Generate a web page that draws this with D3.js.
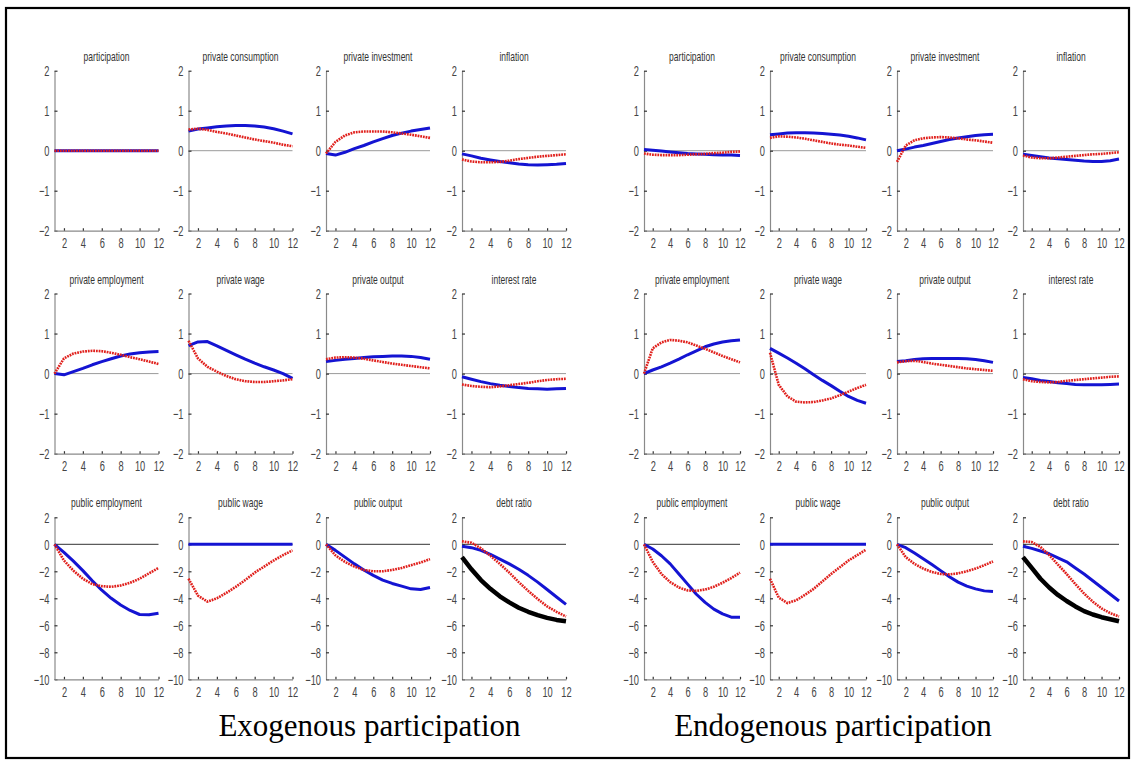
<!DOCTYPE html>
<html><head><meta charset="utf-8">
<script src="https://cdn.jsdelivr.net/npm/d3@7"></script>
<style>body{margin:0;background:#fff}svg{display:block}</style>
</head><body><svg id="c" width="1131" height="760"></svg>
<script>
// ---------- data ----------
const periods = [1,2,3,4,5,6,7,8,9,10,11,12];
const xTicks = [2,4,6,8,10,12];
const yTicksSmall = [-2,-1,0,1,2];
const yTicksLarge = [-10,-8,-6,-4,-2,0,2];
const panelTitles = ["participation","private consumption","private investment","inflation",
  "private employment","private wage","private output","interest rate",
  "public employment","public wage","public output","debt ratio"];
const captions = ["Exogenous participation","Endogenous participation"];

// Exogenous participation (blue = solid, red = dotted, black = thick)
const exoParticipationBlue = [0,0,0,0,0,0,0,0,0,0,0,0];
const exoParticipationRed  = [0,0,0,0,0,0,0,0,0,0,0,0];
const exoConsumptionBlue = [0.49,0.54,0.57,0.60,0.62,0.63,0.63,0.62,0.59,0.55,0.49,0.42];
const exoConsumptionRed  = [0.53,0.55,0.52,0.47,0.43,0.38,0.33,0.28,0.24,0.20,0.15,0.11];
const exoInvestmentBlue = [-0.07,-0.11,-0.04,0.05,0.13,0.22,0.30,0.38,0.44,0.49,0.53,0.57];
const exoInvestmentRed  = [-0.07,0.22,0.38,0.46,0.48,0.48,0.48,0.46,0.43,0.40,0.36,0.32];
const exoInflationBlue = [-0.08,-0.13,-0.19,-0.23,-0.27,-0.30,-0.33,-0.35,-0.36,-0.35,-0.34,-0.32];
const exoInflationRed  = [-0.22,-0.27,-0.29,-0.29,-0.28,-0.25,-0.21,-0.18,-0.15,-0.13,-0.11,-0.09];
const exoPrivEmpBlue = [0.0,-0.03,0.05,0.13,0.22,0.30,0.37,0.44,0.49,0.52,0.54,0.55];
const exoPrivEmpRed  = [0.0,0.38,0.50,0.55,0.57,0.56,0.52,0.47,0.41,0.36,0.30,0.24];
const exoPrivWageBlue = [0.70,0.79,0.80,0.69,0.58,0.47,0.36,0.26,0.17,0.09,0.00,-0.12];
const exoPrivWageRed  = [0.82,0.38,0.17,0.05,-0.06,-0.14,-0.19,-0.21,-0.21,-0.19,-0.17,-0.14];
const exoPrivOutBlue = [0.30,0.33,0.36,0.38,0.40,0.42,0.43,0.44,0.44,0.43,0.40,0.36];
const exoPrivOutRed  = [0.36,0.40,0.41,0.40,0.37,0.33,0.29,0.25,0.22,0.19,0.16,0.13];
const exoInterestBlue = [-0.08,-0.14,-0.20,-0.25,-0.29,-0.32,-0.35,-0.37,-0.38,-0.39,-0.38,-0.37];
const exoInterestRed  = [-0.27,-0.31,-0.33,-0.34,-0.32,-0.29,-0.26,-0.23,-0.19,-0.16,-0.14,-0.13];
const exoPubEmpBlue = [0,-0.6,-1.25,-1.95,-2.7,-3.4,-4.0,-4.5,-4.9,-5.2,-5.22,-5.1];
const exoPubEmpRed  = [0,-1.2,-1.95,-2.55,-2.95,-3.1,-3.15,-3.05,-2.85,-2.55,-2.15,-1.75];
const exoPubWageBlue = [0,0,0,0,0,0,0,0,0,0,0,0];
const exoPubWageRed  = [-2.55,-3.8,-4.25,-4.0,-3.6,-3.15,-2.65,-2.1,-1.65,-1.2,-0.8,-0.45];
const exoPubOutBlue = [0,-0.45,-0.95,-1.45,-1.9,-2.3,-2.65,-2.9,-3.1,-3.3,-3.35,-3.2];
const exoPubOutRed  = [0,-0.82,-1.3,-1.65,-1.9,-2.0,-2.0,-1.9,-1.75,-1.55,-1.35,-1.1];
const exoDebtBlue  = [-0.15,-0.25,-0.45,-0.75,-1.1,-1.45,-1.85,-2.3,-2.8,-3.35,-3.9,-4.45];
const exoDebtRed   = [0.22,0.12,-0.3,-0.85,-1.45,-2.1,-2.8,-3.45,-4.05,-4.6,-5.0,-5.35];
const exoDebtBlack = [-0.95,-1.85,-2.65,-3.3,-3.85,-4.3,-4.7,-5.0,-5.25,-5.45,-5.6,-5.7];

// Endogenous participation
const endoParticipationBlue = [0.03,0.01,-0.01,-0.03,-0.05,-0.07,-0.08,-0.09,-0.10,-0.11,-0.11,-0.12];
const endoParticipationRed  = [-0.07,-0.10,-0.11,-0.11,-0.11,-0.10,-0.09,-0.08,-0.06,-0.05,-0.03,-0.02];
const endoConsumptionBlue = [0.40,0.42,0.44,0.45,0.45,0.44,0.43,0.41,0.39,0.36,0.32,0.27];
const endoConsumptionRed  = [0.32,0.36,0.35,0.33,0.30,0.26,0.22,0.18,0.15,0.13,0.10,0.07];
const endoInvestmentBlue = [0.0,0.04,0.09,0.13,0.18,0.23,0.28,0.32,0.35,0.38,0.40,0.41];
const endoInvestmentRed  = [-0.28,0.13,0.26,0.31,0.33,0.34,0.33,0.31,0.28,0.26,0.23,0.20];
const endoInflationBlue = [-0.09,-0.12,-0.15,-0.18,-0.20,-0.22,-0.24,-0.26,-0.27,-0.27,-0.25,-0.21];
const endoInflationRed  = [-0.12,-0.17,-0.19,-0.19,-0.17,-0.15,-0.13,-0.11,-0.09,-0.08,-0.06,-0.04];
const endoPrivEmpBlue = [0.0,0.09,0.17,0.26,0.36,0.47,0.57,0.67,0.74,0.79,0.82,0.84];
const endoPrivEmpRed  = [0.0,0.63,0.78,0.84,0.82,0.78,0.70,0.62,0.53,0.44,0.36,0.28];
const endoPrivWageBlue = [0.63,0.51,0.39,0.26,0.12,-0.03,-0.17,-0.30,-0.44,-0.57,-0.67,-0.74];
const endoPrivWageRed  = [0.52,-0.28,-0.57,-0.70,-0.72,-0.71,-0.67,-0.62,-0.54,-0.45,-0.36,-0.28];
const endoPrivOutBlue = [0.30,0.32,0.35,0.37,0.38,0.38,0.38,0.38,0.37,0.35,0.32,0.28];
const endoPrivOutRed  = [0.28,0.31,0.32,0.29,0.25,0.22,0.19,0.16,0.13,0.11,0.09,0.07];
const endoInterestBlue = [-0.10,-0.13,-0.17,-0.20,-0.23,-0.25,-0.27,-0.28,-0.28,-0.28,-0.27,-0.26];
const endoInterestRed  = [-0.14,-0.19,-0.21,-0.22,-0.21,-0.18,-0.16,-0.14,-0.12,-0.10,-0.08,-0.07];
const endoPubEmpBlue = [0,-0.35,-0.85,-1.45,-2.2,-2.95,-3.7,-4.3,-4.8,-5.15,-5.4,-5.4];
const endoPubEmpRed  = [0,-1.3,-2.2,-2.8,-3.2,-3.42,-3.45,-3.35,-3.15,-2.85,-2.5,-2.1];
const endoPubWageBlue = [0,0,0,0,0,0,0,0,0,0,0,0];
const endoPubWageRed  = [-2.55,-3.95,-4.35,-4.15,-3.75,-3.3,-2.75,-2.2,-1.7,-1.2,-0.8,-0.4];
const endoPubOutBlue = [0,-0.25,-0.65,-1.07,-1.5,-1.95,-2.4,-2.8,-3.1,-3.3,-3.45,-3.5];
const endoPubOutRed  = [0,-0.95,-1.45,-1.8,-2.05,-2.2,-2.23,-2.15,-2.0,-1.8,-1.55,-1.27];
const endoDebtBlue  = [-0.15,-0.3,-0.5,-0.7,-1.0,-1.3,-1.75,-2.2,-2.7,-3.2,-3.7,-4.2];
const endoDebtRed   = [0.22,0.17,-0.2,-0.8,-1.5,-2.2,-2.95,-3.65,-4.25,-4.75,-5.1,-5.35];
const endoDebtBlack = [-0.95,-1.75,-2.55,-3.2,-3.75,-4.2,-4.6,-4.95,-5.2,-5.4,-5.55,-5.7];

// ---------- assemble ----------
const scenarios = [
  { blue: [exoParticipationBlue, exoConsumptionBlue, exoInvestmentBlue, exoInflationBlue,
           exoPrivEmpBlue, exoPrivWageBlue, exoPrivOutBlue, exoInterestBlue,
           exoPubEmpBlue, exoPubWageBlue, exoPubOutBlue, exoDebtBlue],
    red:  [exoParticipationRed, exoConsumptionRed, exoInvestmentRed, exoInflationRed,
           exoPrivEmpRed, exoPrivWageRed, exoPrivOutRed, exoInterestRed,
           exoPubEmpRed, exoPubWageRed, exoPubOutRed, exoDebtRed],
    black: exoDebtBlack },
  { blue: [endoParticipationBlue, endoConsumptionBlue, endoInvestmentBlue, endoInflationBlue,
           endoPrivEmpBlue, endoPrivWageBlue, endoPrivOutBlue, endoInterestBlue,
           endoPubEmpBlue, endoPubWageBlue, endoPubOutBlue, endoDebtBlue],
    red:  [endoParticipationRed, endoConsumptionRed, endoInvestmentRed, endoInflationRed,
           endoPrivEmpRed, endoPrivWageRed, endoPrivOutRed, endoInterestRed,
           endoPubEmpRed, endoPubWageRed, endoPubOutRed, endoDebtRed],
    black: endoDebtBlack }
];

// ---------- layout ----------
const colX = [[54.5, 188.5, 326, 462], [644, 770, 897, 1023]];
const colW = [104, 96];
const rowY = [[70.7, 230.7], [293.5, 453.7], [517.3, 679.3]];
const captionX = [369.5, 833];

const svg = d3.select("#c");
svg.append("rect").attr("x",0).attr("y",0).attr("width",1131).attr("height",760).attr("fill","#fff");
svg.append("rect").attr("x",6).attr("y",8).attr("width",1123).attr("height",750)
  .attr("fill","none").attr("stroke","#000").attr("stroke-width",2.2);

const SX = 0.64;
const SXT = 0.68;
const fontTick = "'Liberation Sans', Arial, sans-serif";

function condense(sel, anchor) {
  sel.each(function(){
    const t = d3.select(this);
    const x = +t.attr("x") || 0;
    const y = +t.attr("y") || 0;
    t.attr("x",0).attr("y",0)
     .attr("transform", `translate(${x},${y}) scale(${SX},1)`)
     .attr("text-anchor", anchor);
  });
}

scenarios.forEach((sc, s) => {
  for (let i = 0; i < 12; i++) {
    const row = Math.floor(i/4), col = i % 4;
    const x0 = colX[s][col], w = colW[s];
    const [top, bottom] = rowY[row];
    const x = d3.scaleLinear().domain([1,12]).range([x0, x0+w]);
    const y = d3.scaleLinear().domain(row < 2 ? [-2,2] : [-10,2]).range([bottom, top]);
    const g = svg.append("g");

    // zero line
    g.append("line").attr("x1", x(1)).attr("x2", x(12)).attr("y1", y(0)).attr("y2", y(0))
      .attr("stroke", row < 2 ? "#9a9a9a" : "#333").attr("stroke-width", 1);

    // axes
    const ya = g.append("g").attr("transform", `translate(${x0},0)`)
      .call(d3.axisLeft(y).tickValues(row < 2 ? yTicksSmall : yTicksLarge)
        .tickSizeInner(-3).tickSizeOuter(0).tickPadding(5).tickFormat(d3.format("d")));
    const xa = g.append("g").attr("transform", `translate(0,${bottom})`)
      .call(d3.axisBottom(x).tickValues(xTicks)
        .tickSizeInner(-2.5).tickSizeOuter(0).tickPadding(7).tickFormat(d3.format("d")));
    [ya, xa].forEach(a => {
      a.select(".domain").attr("stroke", "#8a8a8a").attr("stroke-width", 1.2);
      a.selectAll(".tick line").attr("stroke", "#333").attr("stroke-width", 1.2);
      a.selectAll(".tick text").attr("fill", "#444").attr("font-size", 14.5)
        .attr("font-family", fontTick);
    });
    ya.selectAll(".tick text").attr("dy", "0.36em").call(condense, "end");
    xa.selectAll(".tick text").attr("dy", "0.71em").call(condense, "middle");

    // title
    g.append("text").text(panelTitles[i])
      .attr("transform", `translate(${x0 + w/2},${top - 10}) scale(${SXT},1)`)
      .attr("text-anchor", "middle").attr("font-size", 12.5).attr("fill", "#333")
      .attr("font-family", fontTick);

    const line = d3.line().x((d, k) => x(periods[k])).y(d => y(d));
    if (i === 11) {
      g.append("path").datum(sc.black).attr("d", line).attr("fill", "none")
        .attr("stroke", "#000").attr("stroke-width", 4.5).attr("stroke-linejoin","round");
    }
    g.append("path").datum(sc.blue[i]).attr("d", line).attr("fill", "none")
      .attr("stroke", "#1414d2").attr("stroke-width", 3).attr("stroke-linejoin","round");
    g.append("path").datum(sc.red[i]).attr("d", line).attr("fill", "none")
      .attr("stroke", "#e0201c").attr("stroke-width", 2.6).attr("stroke-dasharray", "1.8,0.9");
  }
  svg.append("text").text(captions[s]).attr("x", captionX[s]).attr("y", 736)
    .attr("text-anchor", "middle").attr("font-family", "'Liberation Serif','Times New Roman',serif")
    .attr("font-size", 31).attr("fill", "#000");
});
</script>
</body></html>
